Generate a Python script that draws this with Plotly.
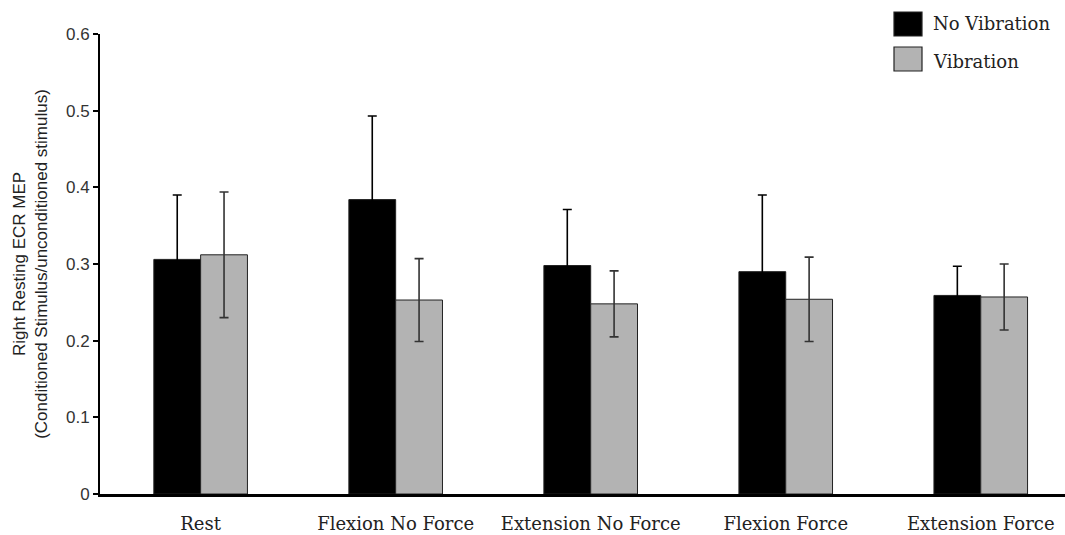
import plotly.graph_objects as go

# Conditions and group means / SE for the two vibration states
conditions = ["Rest", "Flexion No Force", "Extension No Force", "Flexion Force", "Extension Force"]
no_vib = [0.306, 0.384, 0.298, 0.290, 0.259]
no_vib_err = [0.084, 0.109, 0.073, 0.100, 0.038]
vib = [0.312, 0.253, 0.248, 0.254, 0.257]
vib_err = [0.082, 0.054, 0.043, 0.055, 0.043]
series_names = ["No Vibration", "Vibration"]
y_ticks = [0, 0.1, 0.2, 0.3, 0.4, 0.5, 0.6]
y_tick_text = ["0", "0.1", "0.2", "0.3", "0.4", "0.5", "0.6"]

colors = ["#000000", "#b3b3b3"]
err_colors = ["#000000", "#333333"]
serif = "DejaVu Serif"
sans = "Liberation Sans"

fig = go.Figure()
for name, vals, errs, col, ecol in zip(series_names, [no_vib, vib], [no_vib_err, vib_err], colors, err_colors):
    fig.add_trace(go.Bar(
        x=conditions, y=vals, name=name,
        marker=dict(color=col, line=dict(color="#222222", width=1)),
        error_y=dict(type="data", array=errs, visible=True,
                     color=ecol, thickness=1.6, width=4.5),
        showlegend=False,
    ))

# Legend drawn as swatches with labels in the upper right
legend_text_y = [23, 61]
for i, (name, col) in enumerate(zip(series_names, colors)):
    top = 12 + i * 35
    fig.add_shape(type="rect", xref="paper", yref="paper",
                  x0=(894 - 100) / 965, x1=(922 - 100) / 965,
                  y0=(494 - (top + 24)) / 460, y1=(494 - top) / 460,
                  fillcolor=col, line=dict(color="#222222", width=1.2))
    fig.add_annotation(xref="paper", yref="paper",
                       x=(931 - 100) / 965, y=(494 - legend_text_y[i]) / 460,
                       text=name, showarrow=False, xanchor="left", yanchor="middle",
                       font=dict(family=serif, size=18, color="#222222"))

fig.update_layout(
    width=1065, height=535,
    margin=dict(l=100, r=0, t=34, b=41),
    paper_bgcolor="white", plot_bgcolor="white",
    barmode="group", bargap=0.52, bargroupgap=0,
    xaxis=dict(
        range=[-0.516, 4.432], showline=True, linecolor="#000000", linewidth=2.5,
        ticks="", showgrid=False, zeroline=False,
        tickfont=dict(family=serif, size=18, color="#222222"),
        ticklabelstandoff=12,
    ),
    yaxis=dict(
        range=[0, 0.6], tickvals=y_ticks, ticktext=y_tick_text,
        showline=True, linecolor="#000000", linewidth=2,
        ticks="outside", ticklen=5, tickwidth=1.5, tickcolor="#000000",
        showgrid=False, zeroline=False,
        tickfont=dict(family=sans, size=17, color="#333333"),
        title=dict(text="Right Resting ECR MEP<br>(Conditioned Stimulus/unconditioned stimulus)",
                   font=dict(family=sans, size=17, color="#222222"), standoff=14),
    ),
)

fig.write_html("out.html")
